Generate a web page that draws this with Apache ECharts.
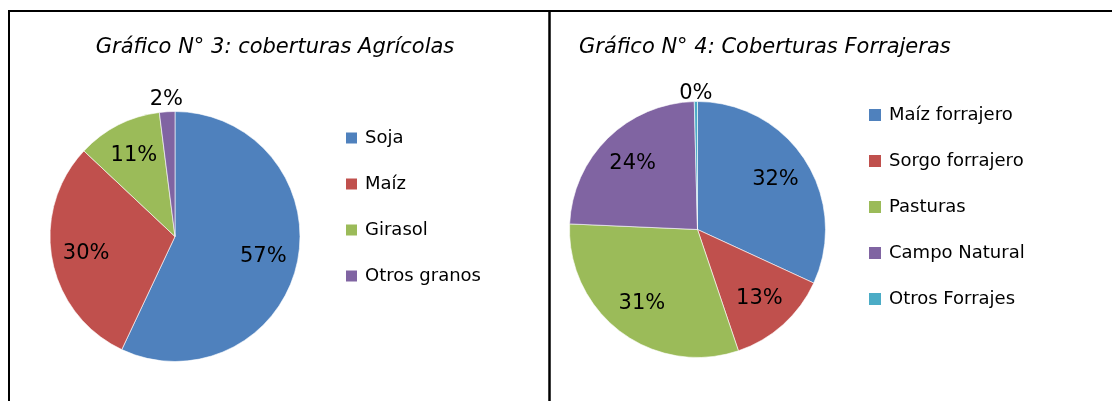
<!DOCTYPE html>
<html>
<head>
<meta charset="utf-8">
<script src="https://cdn.jsdelivr.net/npm/echarts@6/dist/echarts.min.js"></script>
<style>
  html, body { margin: 0; padding: 0; background: #fff; }
  #chart { width: 1112px; height: 401px; }
</style>
</head>
<body>
<div id="chart"></div>
<script>
// Gráfico 3
const agriNames = ['Soja', 'Maíz', 'Girasol', 'Otros granos'];
const agriValues = [57, 30, 11, 2];
// Gráfico 4
const forrNames = ['Maíz forrajero', 'Sorgo forrajero', 'Pasturas', 'Campo Natural', 'Otros Forrajes'];
const forrValues = [32, 13, 31, 24, 0.4];

const agriColors = ['#4F81BD', '#C0504D', '#9BBB59', '#8064A2'];
const forrColors = ['#4F81BD', '#C0504D', '#9BBB59', '#8064A2', '#4BACC6'];

const FONT = 'DejaVu Sans';

const chart = echarts.init(document.getElementById('chart'));

function toData(names, values) {
  return names.map((name, i) => ({ name, value: values[i] }));
}

function pctLabel(p) {
  return Math.round(p.percent) + '%';
}

// main pie + two transparent copies that only carry labels
// (inner labels at 0.7R, the tiny slice label just above the pie)
function pieSeries(names, values, colors, center, r, outerIdx, outerK) {
  const labelBase = {
    color: '#000',
    fontFamily: FONT,
    fontSize: 21,
    formatter: pctLabel,
  };
  return [
    {
      type: 'pie',
      center,
      radius: [0, r],
      startAngle: 90,
      color: colors,
      silent: true,
      label: { show: false },
      labelLine: { show: false },
      itemStyle: { borderColor: '#fff', borderWidth: 0.6 },
      data: toData(names, values),
    },
    {
      type: 'pie',
      center,
      radius: [0, r * 1.4],
      startAngle: 90,
      silent: true,
      itemStyle: { color: 'rgba(0,0,0,0)' },
      label: Object.assign({ position: 'inside' }, labelBase),
      labelLine: { show: false },
      data: toData(names, values).map((d, i) => Object.assign(d, { label: { show: i !== outerIdx } })),
    },
    {
      type: 'pie',
      center,
      radius: [0, r * outerK],
      startAngle: 90,
      silent: true,
      itemStyle: { color: 'rgba(0,0,0,0)' },
      label: Object.assign({ position: 'inside' }, labelBase),
      labelLine: { show: false },
      data: toData(names, values).map((d, i) => Object.assign(d, { label: { show: i === outerIdx } })),
    },
  ];
}

const legendText = { fontFamily: FONT, fontSize: 18, color: '#000', padding: [0, 0, 0, 3] };
const titleText = { fontFamily: FONT, fontStyle: 'italic', fontWeight: 'normal', fontSize: 21, color: '#000' };

const option = {
  animation: false,
  title: [
    {
      text: 'Gráfico N° 3: coberturas Agrícolas',
      left: 275,
      textAlign: 'center',
      top: 37,
      padding: 0,
      textStyle: titleText,
    },
    {
      text: 'Gráfico N° 4: Coberturas Forrajeras',
      left: 579,
      top: 37,
      padding: 0,
      textStyle: titleText,
    },
  ],
  legend: [
    {
      orient: 'vertical',
      left: 346,
      top: 129,
      padding: 0,
      icon: 'rect',
      itemWidth: 11,
      itemHeight: 11,
      itemGap: 28,
      selectedMode: false,
      itemStyle: { borderWidth: 0 },
      textStyle: legendText,
      data: agriNames,
    },
    {
      orient: 'vertical',
      left: 869,
      top: 106,
      padding: 0,
      icon: 'rect',
      itemWidth: 12,
      itemHeight: 12,
      itemGap: 28,
      selectedMode: false,
      itemStyle: { borderWidth: 0 },
      textStyle: legendText,
      data: forrNames,
    },
  ],
  graphic: [
    { type: 'line', shape: { x1: 8, y1: 11, x2: 1112, y2: 11 }, style: { stroke: '#000', lineWidth: 2 } },
    { type: 'line', shape: { x1: 9, y1: 10, x2: 9, y2: 401 }, style: { stroke: '#000', lineWidth: 2 } },
    { type: 'line', shape: { x1: 549.5, y1: 10, x2: 549.5, y2: 401 }, style: { stroke: '#000', lineWidth: 2.5 } },
  ],
  series: [
    ...pieSeries(agriNames, agriValues, agriColors, [175, 236.5], 125, 3, 2.14),
    ...pieSeries(forrNames, forrValues, forrColors, [697.5, 229.5], 128, 4, 2.07),
  ],
};

chart.setOption(option);
</script>
</body>
</html>
